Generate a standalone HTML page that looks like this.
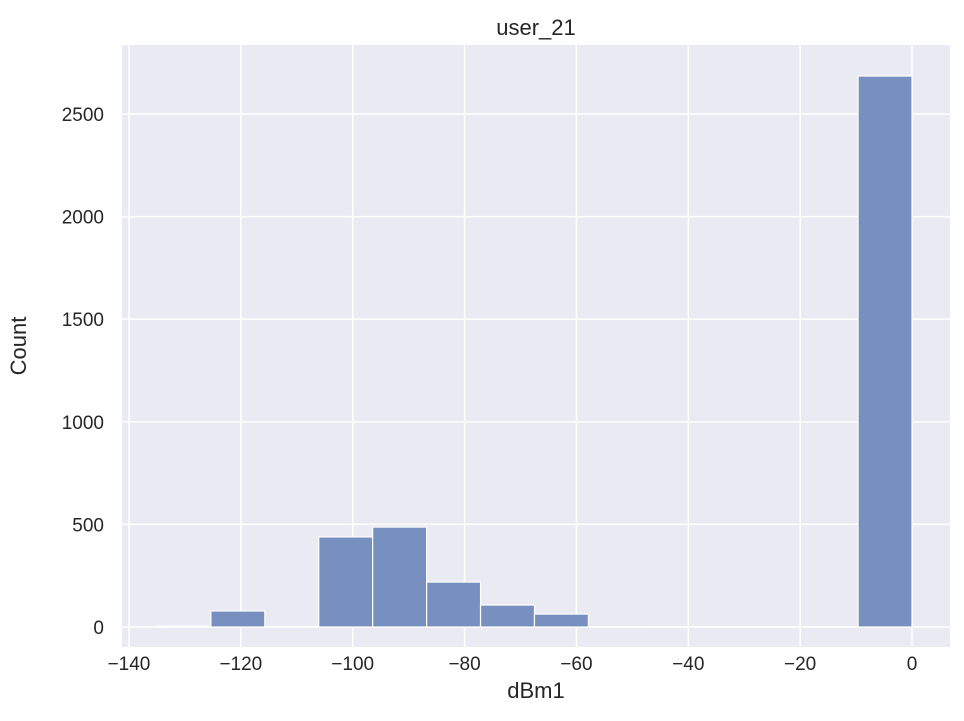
<!DOCTYPE html>
<html><head><meta charset="utf-8"><style>
body{margin:0;background:#fff;}
svg text{font-family:"Liberation Sans",sans-serif;fill:#262626;}
</style></head><body>
<svg id="chart" width="964" height="716">
<rect x="122" y="45" width="828" height="602" fill="#eaeaf2"/>
<g id="grid"></g><g id="bars"></g><g id="ticks"></g>
<text x="536" y="35" font-size="22" text-anchor="middle">user_21</text>
<text x="536" y="698" font-size="22" text-anchor="middle">dBm1</text>
<text x="26" y="346" font-size="22" text-anchor="middle" transform="rotate(-90 26 346)">Count</text>
</svg>
<script>
const binStart = -135;
const binEnd = 0;
const counts = [5, 78, 3, 439, 487, 219, 107, 63, 2, 1, 1, 1, 1, 2685];
const xTicks = [-140, -120, -100, -80, -60, -40, -20, 0];
const yTicks = [0, 500, 1000, 1500, 2000, 2500];
const ns = "http://www.w3.org/2000/svg";
const X = v => 912 + v * 5.593;
const Y = v => 627 - v * 0.2052;
function mk(tag, attrs, parent){const e=document.createElementNS(ns,tag);for(const k in attrs)e.setAttribute(k,attrs[k]);document.getElementById(parent).appendChild(e);return e;}
xTicks.forEach(t=>{
  const l=mk('line',{x1:X(t),x2:X(t),y1:45,y2:647,stroke:'#fff','stroke-width':1.5},'grid');
  
  
  const tx=mk('text',{x:X(t),y:670,'font-size':19,'text-anchor':'middle'},'ticks');
  tx.textContent=(t<0?'\u2212'+(-t):t);
  
  
});
yTicks.forEach(t=>{
  const l=mk('line',{x1:122,x2:950,y1:Y(t),y2:Y(t),stroke:'#fff','stroke-width':1.5},'grid');
  
  
  const tx=mk('text',{x:104,y:Y(t)+7,'font-size':19,'text-anchor':'end'},'ticks');
  tx.textContent=t;
  
  
});
const w=(binEnd-binStart)/counts.length;
counts.forEach((c,i)=>{
  const x0=X(binStart+i*w), x1=X(binStart+(i+1)*w);
  const r=mk('rect',{x:x0,y:Y(c),width:x1-x0,height:Y(0)-Y(c),fill:'#7790bf',stroke:'#fff','stroke-width':1.2},'bars');
  
  
});
</script>
</body></html>
